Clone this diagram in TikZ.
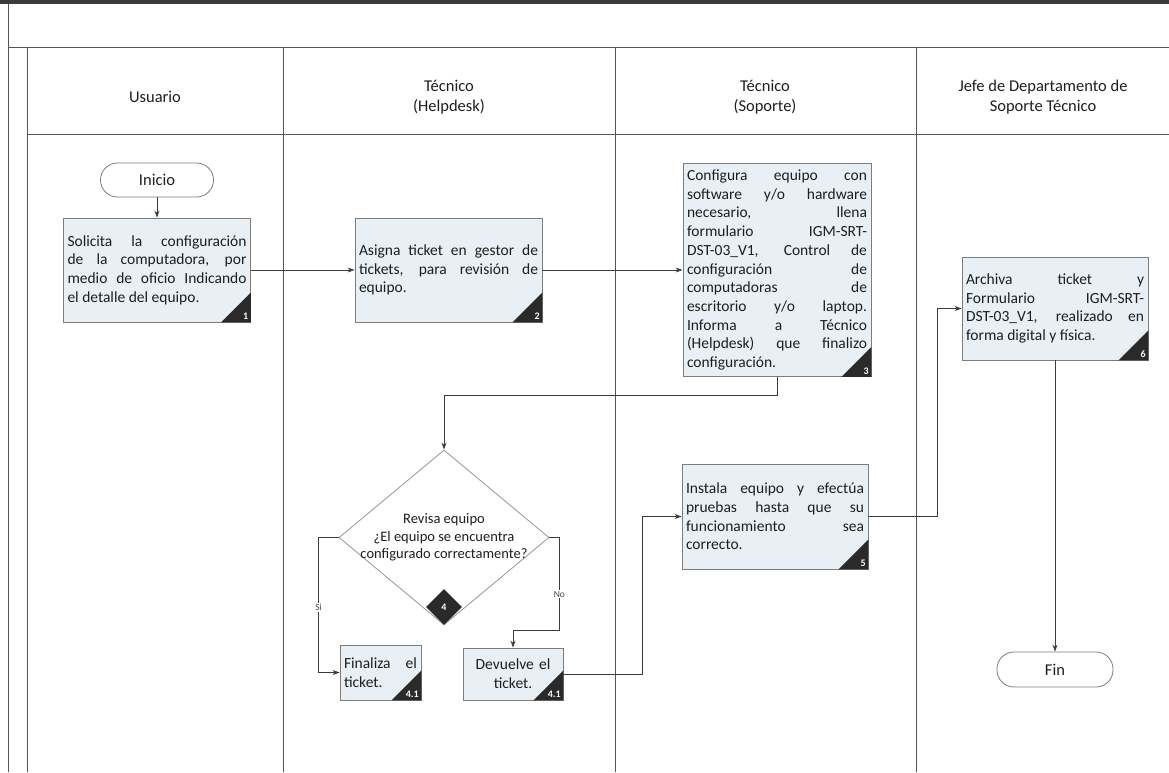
\documentclass[tikz,border=0pt]{standalone}
\usepackage{fontspec}
\setmainfont{Carlito}
\usetikzlibrary{shapes.geometric,arrows.meta,calc}
\setlength\parindent{0pt}

\definecolor{boxfill}{HTML}{E8F0F5}
\definecolor{boxline}{HTML}{7C7C7C}
\definecolor{tagfill}{HTML}{2A2A2A}
\definecolor{laneline}{HTML}{555555}
\definecolor{flowline}{HTML}{3C3C3C}
\definecolor{ink}{HTML}{1E1E1E}
\definecolor{bandcol}{HTML}{3A3A3A}

\tikzset{
  lane/.style={draw=laneline, line width=0.9pt},
  hdr/.style={font=\fontsize{16.5}{20}\selectfont, text=ink, align=center, inner sep=0pt},
  procbox/.style={draw=boxline, fill=boxfill, line width=0.8pt, inner sep=4pt,
    font=\fontsize{15.5}{18.7}\selectfont, text=ink, align=justify},
  tagnum/.style={text=white, font=\fontsize{10}{10}\selectfont\bfseries,
    anchor=south east, inner sep=2.5pt},
  terminal/.style={draw=boxline, fill=white, line width=0.8pt, rounded corners=17pt,
    font=\fontsize{16.5}{18}\selectfont, text=ink, inner sep=0pt},
  decision/.style={diamond, draw=boxline!80, fill=white, line width=0.8pt, inner sep=0pt},
  dectag/.style={diamond, fill=tagfill, inner sep=0pt, text=white,
    font=\fontsize{10}{10}\selectfont\bfseries},
  flow/.style={draw=flowline, line width=0.8pt, -{Stealth[length=7pt,width=5pt]}},
  lbl/.style={fill=white, inner sep=1pt, font=\fontsize{9.5}{9.5}\selectfont, text=ink!80},
}

\begin{document}
\begin{tikzpicture}[x=1pt,y=-1pt]
\useasboundingbox (0,0) rectangle (1169,772);
\fill[white] (0,0) rectangle (1169,772);

% page frame and swimlane grid
\fill[bandcol] (0,0) rectangle (1169,4);
\draw[lane] (8,4) -- (8,772);
\draw[lane] (8,47) -- (1169,47);
\draw[lane] (27,47) -- (27,772);
\draw[lane] (27,134) -- (1169,134);
\foreach \x in {283,615,916} \draw[lane] (\x,47) -- (\x,772);

% lane headers
\node[hdr] (h1) at (155,97) {Usuario};
\node[hdr] (h2) at (449,97) {Técnico\\(Helpdesk)};
\node[hdr] (h3) at (765,97) {Técnico\\(Soporte)};
\node[hdr] (h4) at (1043,97) {Jefe de Departamento de\\Soporte Técnico};

% terminals
\node[terminal, minimum width=113, minimum height=34] (ini) at (157,180) {Inicio};
\node[terminal, minimum width=116, minimum height=35] (fin) at (1055,669.5) {Fin};

% process steps
\node[procbox, text width=179, minimum height=104] (b1) at (157,270)
  {Solicita la configuración\linebreak de la computadora, por\linebreak medio de oficio Indicando\linebreak el detalle del equipo.};
\node[procbox, text width=179, minimum height=104] (b2) at (448.5,270)
  {Asigna ticket en gestor de\linebreak tickets, para revisión de\linebreak equipo.};
\node[procbox, text width=180, minimum height=213] (b3) at (777,270)
  {Configura equipo con\linebreak software y/o hardware\linebreak necesario, llena\linebreak formulario IGM-SRT-\linebreak DST-03\_V1, Control de\linebreak configuración de\linebreak computadoras de\linebreak escritorio y/o laptop.\linebreak Informa a Técnico\linebreak (Helpdesk) que finalizo\linebreak configuración.};
\node[procbox, text width=178, minimum height=105] (b5) at (775,516.5)
  {Instala equipo y efectúa\linebreak pruebas hasta que su\linebreak funcionamiento sea\linebreak correcto.};
\node[procbox, text width=178, minimum height=103] (b6) at (1055,308.5)
  {Archiva ticket y\linebreak Formulario IGM-SRT-\linebreak DST-03\_V1, realizado en\linebreak forma digital y física.};
\node[procbox, text width=73, minimum height=55] (fin41) at (380.5,672.5)
  {Finaliza el\linebreak ticket.};
\node[procbox, text width=92, minimum height=52, align=center] (dev) at (513,674)
  {Devuelve el\\ticket.};

% step number tags in the lower right corners
\foreach \b/\t in {b1/1, b2/2, b3/3, b5/5, b6/6, fin41/4.1, dev/4.1} {
  \fill[tagfill] (\b.south east) -- ++(-30,0) -- ++(30,-30) -- cycle;
  \node[tagnum] (\b-tag) at (\b.south east) {\t};
}

% decision
\node[decision, minimum width=210, minimum height=175,
  label={[align=center, font=\fontsize{14.5}{17.5}\selectfont, text=ink]center:{Revisa equipo\\¿El equipo se encuentra\\configurado correctamente?}}]
  (dec) at (444,537.5) {};
\node[dectag, minimum width=36, minimum height=36] (dec4) at (444,607) {4};

% routing points
\coordinate (j1) at (642,674);
\coordinate (j2) at (937,516);

% connectors
\draw[flow] (ini) -- (b1);
\draw[flow] (b1) -- (b2);
\draw[flow] (b2) -- (b3);
\draw[flow] (b3.south) -- ++(0,18) -| (dec.north);
\draw[flow] (dec.west) -- ++(-20,0) |- node[pos=0.26, lbl] {Si} (fin41.west);
\draw[flow] (dec.east) -- ++(10,0) -- ++(0,93) node[pos=0.61, lbl] {No} -| (dev.north);
\draw[flow] (dev.east) -| (j1 |- b5.west) -- (b5.west);
\draw[flow] (b5.east) -| (j2 |- b6.west) -- (b6.west);
\draw[flow] (b6) -- (fin);
\end{tikzpicture}
\end{document}
